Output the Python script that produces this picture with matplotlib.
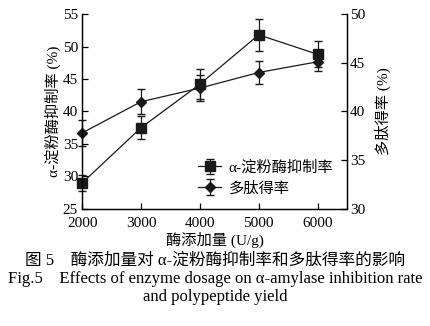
import numpy as np
import matplotlib.pyplot as plt

plt.rcParams['font.family'] = ['Liberation Serif', 'Noto Sans CJK SC']

dosage = [2000, 3000, 4000, 5000, 6000]
inhibition = [29.0, 37.5, 44.2, 51.8, 48.8]
inhibition_err = [1.3, 1.8, 2.3, 2.5, 2.0]
yield_rate = [37.8, 41.0, 42.4, 44.0, 45.1]
yield_err = [1.3, 1.3, 1.3, 1.2, 0.9]

fig = plt.figure(figsize=(4.3, 3.26), dpi=100)
ax = fig.add_axes([0.191, 0.359, 0.616, 0.598])
ax2 = ax.twinx()

l1 = ax.errorbar(dosage, inhibition, yerr=inhibition_err, color='#1a1a1a', marker='s',
                 markersize=7, lw=0.9, elinewidth=0.9, capsize=3, clip_on=False)
l2 = ax2.errorbar(dosage, yield_rate, yerr=yield_err, color='#1a1a1a', marker='D',
                  markersize=5, lw=0.9, elinewidth=0.9, capsize=3, clip_on=False)

ax.set_xlim(2000, 6500)
ax.set_ylim(25, 55)
ax2.set_ylim(30, 50)
ax.set_xticks(dosage)
ax.set_yticks(np.arange(25, 56, 5))
ax2.set_yticks(np.arange(30, 51, 5))

for a in (ax, ax2):
    a.spines['top'].set_visible(False)
    for s in a.spines.values():
        s.set_linewidth(0.9)
    a.tick_params(direction='in', labelsize=11, length=4, width=0.9, pad=2)
ax.tick_params(axis='x', pad=6)
ax.tick_params(axis='y', pad=3)

ax.set_ylabel('α-淀粉酶抑制率 (%)', fontsize=11, labelpad=1)
ax2.set_ylabel('多肽得率 (%)', fontsize=11, labelpad=7)
ax.set_xlabel('酶添加量 (U/g)', fontsize=11, labelpad=1)

ax.legend([l1, l2], ['α-淀粉酶抑制率', '多肽得率'], loc='lower right',
          bbox_to_anchor=(1.0, 0.0), frameon=False, fontsize=11,
          handlelength=1.5, handletextpad=0.5, labelspacing=0.4)

fig.text(0.5, 0.2, '图 5    酶添加量对 α-淀粉酶抑制率和多肽得率的影响',
         ha='center', va='center', fontsize=12)
fig.text(0.5, 0.145, 'Fig.5    Effects of enzyme dosage on α-amylase inhibition rate',
         ha='center', va='center', fontsize=12)
fig.text(0.5, 0.09, 'and polypeptide yield', ha='center', va='center', fontsize=12)

fig.savefig('out.png', dpi=100)
